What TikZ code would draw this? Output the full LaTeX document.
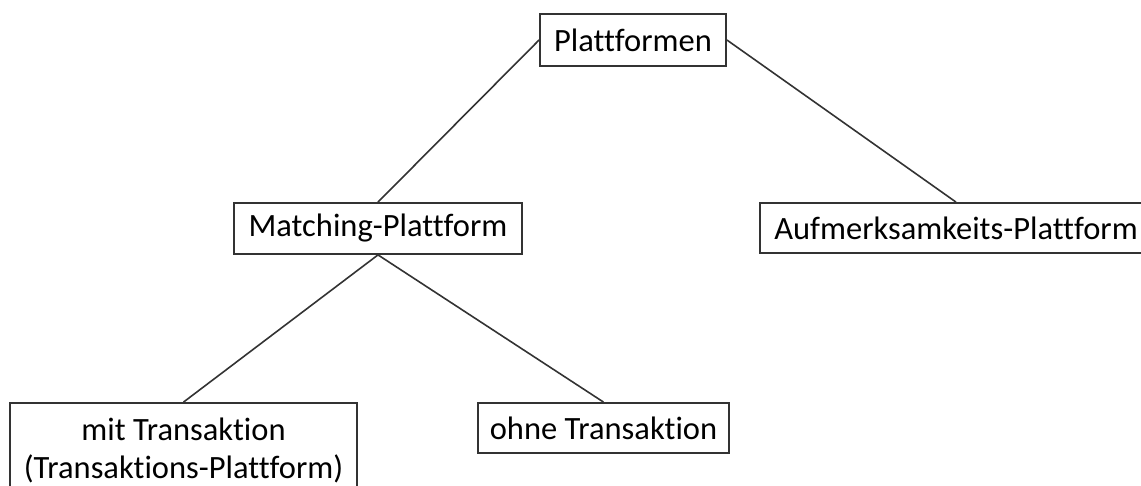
\documentclass[tikz,border=0pt]{standalone}
\usepackage{fontspec}
\setmainfont{Carlito}[Ligatures = NoCommon]
\usepackage{tikz}
\usetikzlibrary{positioning}

\begin{document}
\begin{tikzpicture}[x = 1pt, y = -1pt]
\tikzset{box/.style = {draw, line width = 1.8pt, draw = black!80, inner sep = 0pt, align = center,
  font = \fontsize{32.5}{38}\selectfont}}
\useasboundingbox (0, 0) rectangle (1141, 486);

\node [box, minimum width = 186, minimum height = 52] (plattformen) at (633, 40) {Plattformen};
\node [box, minimum width = 288, minimum height = 51] (matching) at (378, 228.5) {Matching-Plattform};
\node [box, minimum width = 392, minimum height = 50] (aufmerksamkeit) at (956, 228) {Aufmerksamkeits-Plattform};
\node [box, minimum width = 347, minimum height = 95] (mit) at (183.5, 450.5) {mit Transaktion\\(Transaktions-Plattform)};
\node [box, minimum width = 251, minimum height = 50] (ohne) at (603.5, 428) {ohne Transaktion};

\draw [line width = 1.6pt, black!80] (plattformen.west) -- (matching.north);
\draw [line width = 1.6pt, black!80] (plattformen.east) -- (aufmerksamkeit.north);
\draw [line width = 1.6pt, black!80] (matching.south) -- (mit.north);
\draw [line width = 1.6pt, black!80] (matching.south) -- (ohne.north);
\end{tikzpicture}
\end{document}
